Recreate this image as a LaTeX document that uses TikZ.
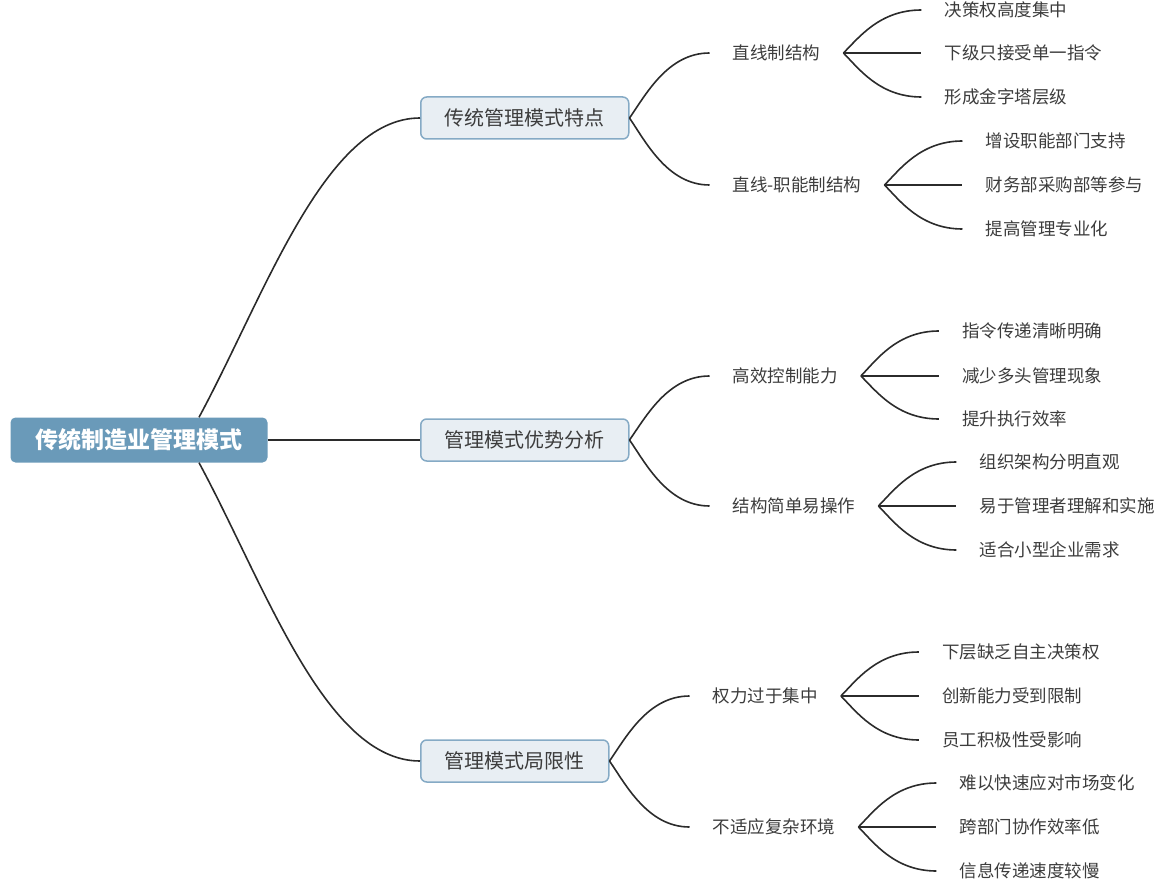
\documentclass[tikz,border=0pt]{standalone}
\usepackage{fontspec}
\setmainfont{Noto Sans CJK SC}
\usepackage{tikz}
\usetikzlibrary{calc}
\definecolor{rootblue}{HTML}{6A9AB9}
\definecolor{topicfill}{HTML}{E8EEF3}
\definecolor{topicline}{HTML}{85AAC5}
\definecolor{textgray}{HTML}{3C3C3C}
\definecolor{linegray}{HTML}{2B2B2B}
\tikzset{
    rootnode/.style={
        fill=rootblue,
        rounded corners=5pt,
        minimum height=45pt,
        inner xsep=25pt,
        text=white,
        font=\fontsize{23pt}{26pt}\selectfont\bfseries
    },
    topic/.style={
        draw=topicline,
        line width=1.5pt,
        fill=topicfill,
        rounded corners=6pt,
        minimum height=42pt,
        inner xsep=24pt,
        anchor=west,
        text=textgray,
        font=\fontsize{20pt}{23pt}\selectfont
    },
    subtopic/.style={
        anchor=west,
        inner xsep=23pt,
        inner ysep=0pt,
        text=textgray,
        font=\fontsize{17.5pt}{20pt}\selectfont
    },
    leaf/.style={
        subtopic
    },
    branch/.style={
        draw=linegray,
        line width=1.6pt
    },
    fork/.style={
        to path={.. controls ($($(\tikztostart)!.35!(\tikztotarget)$)+(-12,0)$)
            and ($(\tikztotarget)+(-42,0)$) .. (\tikztotarget)}
    }
}
\begin{document}
\begin{tikzpicture}[x=1pt,y=-1pt]

    \useasboundingbox (0,0) rectangle (1161,882);

    \node (root) [rootnode] at (139,440) {传统制造业管理模式};

    %% Branch 1: traditional features
    \node (T1) [topic] at (420,118) {传统管理模式特点};
    \draw[branch] ($(root.north)+(60,0)$) .. controls (265,295) and (325,118) .. (T1.west);

    \node (S1) [subtopic] at ($(T1.east)+(80,-65)$) {直线制结构};
    \node (S2) [subtopic] at ($(T1.east)+(80,67)$) {直线-职能制结构};
    \draw[branch] (T1.east) to[fork] (S1.west);
    \draw[branch] (T1.east) to[fork] (S2.west);

    \node (S1a) [leaf] at ($(S1.east)+(78,-43)$) {决策权高度集中};
    \node (S1b) [leaf] at ($(S1.east)+(78,0)$) {下级只接受单一指令};
    \node (S1c) [leaf] at ($(S1.east)+(78,44)$) {形成金字塔层级};
    \draw[branch] (S1.east) to[fork] (S1a.west);
    \draw[branch] (S1.east) -- (S1b.west);
    \draw[branch] (S1.east) to[fork] (S1c.west);

    \node (S2a) [leaf] at ($(S2.east)+(78,-44)$) {增设职能部门支持};
    \node (S2b) [leaf] at ($(S2.east)+(78,0)$) {财务部采购部等参与};
    \node (S2c) [leaf] at ($(S2.east)+(78,44)$) {提高管理专业化};
    \draw[branch] (S2.east) to[fork] (S2a.west);
    \draw[branch] (S2.east) -- (S2b.west);
    \draw[branch] (S2.east) to[fork] (S2c.west);

    %% Branch 2: advantages
    \node (T2) [topic] at (420,440) {管理模式优势分析};
    \draw[branch] (root.east) -- (T2.west);

    \node (S3) [subtopic] at ($(T2.east)+(80,-64)$) {高效控制能力};
    \node (S4) [subtopic] at ($(T2.east)+(80,66)$) {结构简单易操作};
    \draw[branch] (T2.east) to[fork] (S3.west);
    \draw[branch] (T2.east) to[fork] (S4.west);

    \node (S3a) [leaf] at ($(S3.east)+(78,-45)$) {指令传递清晰明确};
    \node (S3b) [leaf] at ($(S3.east)+(78,0)$) {减少多头管理现象};
    \node (S3c) [leaf] at ($(S3.east)+(78,43)$) {提升执行效率};
    \draw[branch] (S3.east) to[fork] (S3a.west);
    \draw[branch] (S3.east) -- (S3b.west);
    \draw[branch] (S3.east) to[fork] (S3c.west);

    \node (S4a) [leaf] at ($(S4.east)+(78,-44)$) {组织架构分明直观};
    \node (S4b) [leaf] at ($(S4.east)+(78,0)$) {易于管理者理解和实施};
    \node (S4c) [leaf] at ($(S4.east)+(78,44)$) {适合小型企业需求};
    \draw[branch] (S4.east) to[fork] (S4a.west);
    \draw[branch] (S4.east) -- (S4b.west);
    \draw[branch] (S4.east) to[fork] (S4c.west);

    %% Branch 3: limitations
    \node (T3) [topic] at (420,761) {管理模式局限性};
    \draw[branch] ($(root.south)+(60,0)$) .. controls (265,585) and (325,761) .. (T3.west);

    \node (S5) [subtopic] at ($(T3.east)+(80,-65)$) {权力过于集中};
    \node (S6) [subtopic] at ($(T3.east)+(80,66)$) {不适应复杂环境};
    \draw[branch] (T3.east) to[fork] (S5.west);
    \draw[branch] (T3.east) to[fork] (S6.west);

    \node (S5a) [leaf] at ($(S5.east)+(78,-44)$) {下层缺乏自主决策权};
    \node (S5b) [leaf] at ($(S5.east)+(78,0)$) {创新能力受到限制};
    \node (S5c) [leaf] at ($(S5.east)+(78,44)$) {员工积极性受影响};
    \draw[branch] (S5.east) to[fork] (S5a.west);
    \draw[branch] (S5.east) -- (S5b.west);
    \draw[branch] (S5.east) to[fork] (S5c.west);

    \node (S6a) [leaf] at ($(S6.east)+(78,-44)$) {难以快速应对市场变化};
    \node (S6b) [leaf] at ($(S6.east)+(78,0)$) {跨部门协作效率低};
    \node (S6c) [leaf] at ($(S6.east)+(78,44)$) {信息传递速度较慢};
    \draw[branch] (S6.east) to[fork] (S6a.west);
    \draw[branch] (S6.east) -- (S6b.west);
    \draw[branch] (S6.east) to[fork] (S6c.west);

\end{tikzpicture}
\end{document}
